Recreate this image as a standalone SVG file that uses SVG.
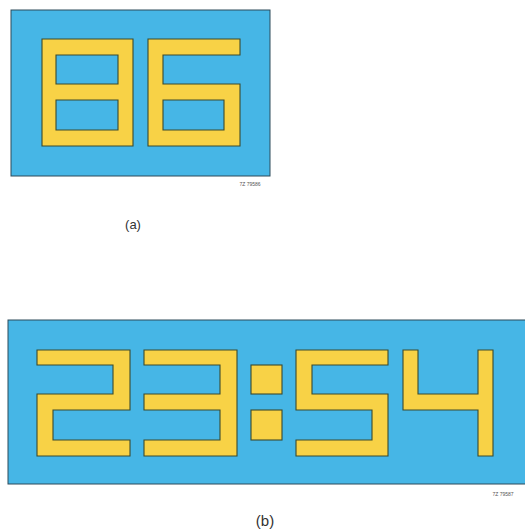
<svg xmlns="http://www.w3.org/2000/svg" width="525" height="532" viewBox="0 0 525 532">
<style>
.panel{fill:#46b6e6;stroke:#2c4a5a;stroke-width:1}
.seg{fill:#f8d246;stroke:#3b4a2e;stroke-width:1.1;fill-rule:evenodd}
.code{font-family:"Liberation Sans",Arial,sans-serif;font-size:5px;fill:#555}
.lbl{font-family:"Liberation Sans",Arial,sans-serif;fill:#333}
</style>
<rect width="525" height="532" fill="#ffffff"/>
<g id="panel-a">
<rect class="panel" x="11" y="10" width="259" height="166"/>
<path id="digit-8" class="seg" d="M42 39H133V146H42Z M56 55V84H118V55Z M56 100V130H118V100Z"/>
<path id="digit-6" class="seg" d="M148 39H240V55H163V84H240V146H148Z M163 100V130H224V100Z"/>
<text class="code" x="250" y="186" text-anchor="middle">7Z 79586</text>
<text class="lbl" x="133" y="229" font-size="13" text-anchor="middle">(a)</text>
</g>
<g id="panel-b">
<rect class="panel" x="8" y="320" width="520" height="164"/>
<path id="digit-2" class="seg" d="M37 350H130V410H53V440H130V456H37V394H113V365H37Z"/>
<path id="digit-3" class="seg" d="M144 350H237V456H144V440H220V410H144V394H220V365H144Z"/>
<rect id="colon-top" class="seg" x="251" y="365" width="31" height="29"/>
<rect id="colon-bottom" class="seg" x="251" y="410" width="31" height="30"/>
<path id="digit-5" class="seg" d="M296 350H388V365H312V394H388V456H296V440H372V410H296Z"/>
<path id="digit-4" class="seg" d="M403 350H418V394H478V350H493V456H478V410H403Z"/>
<text class="code" x="503" y="496" text-anchor="middle">7Z 79587</text>
<text class="lbl" x="265" y="526" font-size="15" text-anchor="middle">(b)</text>
</g>
</svg>
